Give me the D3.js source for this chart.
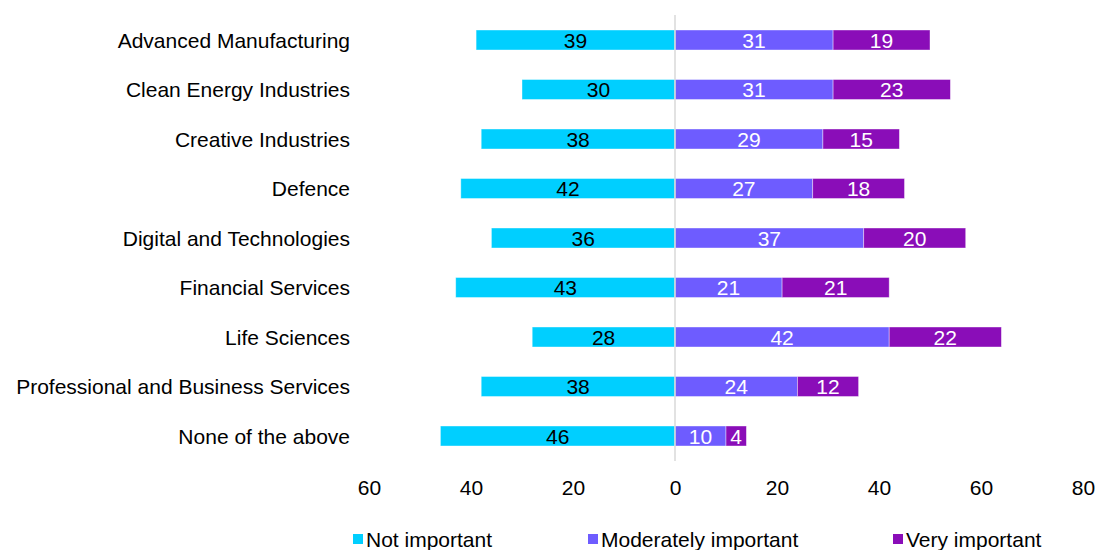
<!DOCTYPE html>
<html>
<head>
<meta charset="utf-8">
<script src="https://cdn.jsdelivr.net/npm/d3@7"></script>
<style>
  body { margin: 0; background: #fff; }
  text { font-family: "Liberation Sans", Arial, sans-serif; }
</style>
</head>
<body>
<script>
const width = 1096;
const height = 550;

const categories = [
  "Advanced Manufacturing",
  "Clean Energy Industries",
  "Creative Industries",
  "Defence",
  "Digital and Technologies",
  "Financial Services",
  "Life Sciences",
  "Professional and Business Services",
  "None of the above"
];
const notImportant = [39, 30, 38, 42, 36, 43, 28, 38, 46];
const moderately = [31, 31, 29, 27, 37, 21, 42, 24, 10];
const very = [19, 23, 15, 18, 20, 21, 22, 12, 4];
const tickValues = [-60, -40, -20, 0, 20, 40, 60, 80];
const seriesNames = ["Not important", "Moderately important", "Very important"];
const colors = ["#00CFFF", "#6E5CFF", "#8A0DB8"];

const fs = 21;

const svg = d3.select("body").append("svg")
  .attr("width", width)
  .attr("height", height);

const x = d3.scaleLinear()
  .domain([-60, 80])
  .range([369, 1083]);

const y = d3.scaleBand()
  .domain(categories)
  .range([15.25, 460.75])
  .paddingInner(0.596)
  .paddingOuter(0.298);

// build segments
const segs = [];
categories.forEach((c, i) => {
  segs.push({cat: c, x0: -notImportant[i], x1: 0, v: notImportant[i], s: 0});
  segs.push({cat: c, x0: 0, x1: moderately[i], v: moderately[i], s: 1});
  segs.push({cat: c, x0: moderately[i], x1: moderately[i] + very[i], v: very[i], s: 2});
});

svg.selectAll("rect.bar")
  .data(segs)
  .enter()
  .append("rect")
  .attr("class", "bar")
  .attr("x", d => x(d.x0))
  .attr("y", d => y(d.cat))
  .attr("width", d => x(d.x1) - x(d.x0))
  .attr("height", y.bandwidth())
  .attr("fill", d => colors[d.s])
  .attr("stroke", "#fff")
  .attr("stroke-opacity", 0.5)
  .attr("stroke-width", 0.8);

svg.selectAll("text.val")
  .data(segs)
  .enter()
  .append("text")
  .attr("class", "val")
  .attr("x", d => (x(d.x0) + x(d.x1)) / 2)
  .attr("y", d => y(d.cat) + y.bandwidth() / 2)
  .attr("dy", "0.36em")
  .attr("text-anchor", "middle")
  .attr("font-size", fs)
  .attr("fill", d => d.s === 0 ? "#000" : "#fff")
  .text(d => d.v);

// zero line
svg.append("line")
  .attr("x1", x(0)).attr("x2", x(0))
  .attr("y1", 15).attr("y2", 461)
  .attr("stroke", "#d9d9d9")
  .attr("stroke-width", 1.5);

// category labels
svg.selectAll("text.cat")
  .data(categories)
  .enter()
  .append("text")
  .attr("class", "cat")
  .attr("x", 350)
  .attr("y", d => y(d) + y.bandwidth() / 2)
  .attr("dy", "0.36em")
  .attr("text-anchor", "end")
  .attr("font-size", fs)
  .attr("fill", "#000")
  .text(d => d);

// x axis
const xAxis = d3.axisBottom(x)
  .tickValues(tickValues)
  .tickSize(0)
  .tickPadding(0)
  .tickFormat(d => Math.abs(d));

const gx = svg.append("g")
  .attr("transform", "translate(0,480)")
  .call(xAxis);
gx.select(".domain").remove();
gx.selectAll("text")
  .attr("font-size", fs)
  .attr("fill", "#000")
  .style("font-family", "'Liberation Sans', Arial, sans-serif");

// legend
const legendX = [353, 588, 893];
const legend = svg.selectAll("g.leg")
  .data(seriesNames)
  .enter()
  .append("g")
  .attr("class", "leg")
  .attr("transform", (d, i) => "translate(" + legendX[i] + ",539)");
legend.append("rect")
  .attr("x", 0).attr("y", -5)
  .attr("width", 10).attr("height", 10)
  .attr("fill", (d, i) => colors[i]);
legend.append("text")
  .attr("x", 13)
  .attr("dy", "0.36em")
  .attr("font-size", fs)
  .attr("fill", "#000")
  .text(d => d);
</script>
</body>
</html>
